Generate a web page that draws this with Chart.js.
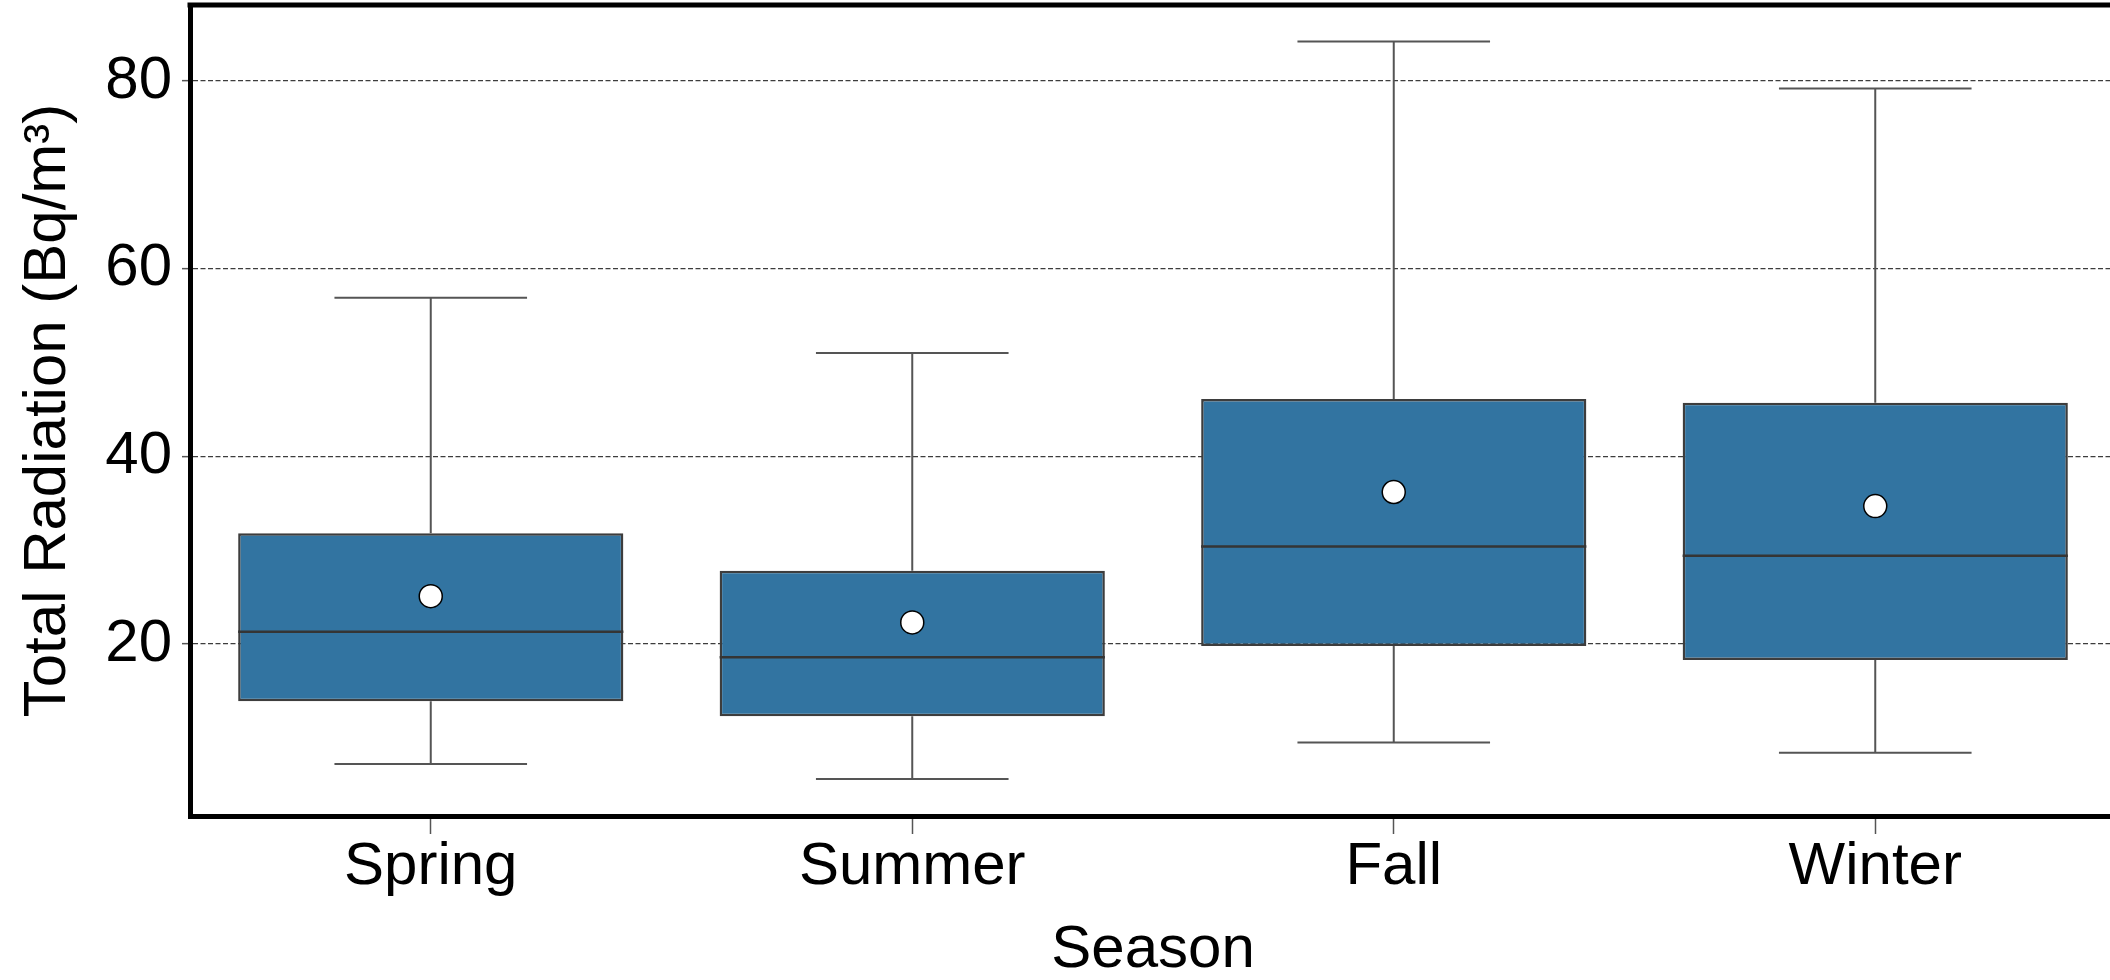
<!DOCTYPE html>
<html>
<head>
<meta charset="utf-8">
<title>Total Radiation by Season</title>
<script src="https://cdn.jsdelivr.net/npm/chart.js@4.4.1/dist/chart.umd.min.js"></script>
<style>
  html, body { margin: 0; padding: 0; background: #fff; overflow: hidden; }
  #chart { display: block; }
</style>
</head>
<body>
<canvas id="chart" width="2130" height="980"></canvas>
<script>
const seasons = ["Spring", "Summer", "Fall", "Winter"];
const whiskerLow = [7.2, 5.6, 9.5, 8.4];
const q1 = [13.9, 12.3, 19.8, 18.3];
const medians = [21.3, 18.6, 30.4, 29.4];
const q3 = [31.8, 27.8, 46.1, 45.7];
const whiskerHigh = [56.9, 51.0, 84.2, 79.2];
const means = [25.1, 22.3, 36.2, 34.7];
const yTicks = [20, 40, 60, 80];
const yMin = 1.67;
const yMax = 88.1;

const FONT = "'Liberation Sans', Arial, sans-serif";
const BOX_COLOR = "#3274a1";
const LINE_COLOR = "#3d3d3d";

// whiskers, caps and medians, drawn right after the boxes
const boxParts = {
  id: "boxParts",
  afterDatasetDraw(chart, args) {
    if (args.index !== 0) return;
    const ctx = chart.ctx;
    const x = chart.scales.x;
    const y = chart.scales.y;
    const bars = chart.getDatasetMeta(0).data;
    const catW = x.getPixelForValue(1) - x.getPixelForValue(0);
    const capHalf = catW * 0.2;

    ctx.save();
    seasons.forEach((s, i) => {
      const cx = x.getPixelForValue(i);
      const yLo = y.getPixelForValue(whiskerLow[i]);
      const yQ1 = y.getPixelForValue(q1[i]);
      const yQ3 = y.getPixelForValue(q3[i]);
      const yHi = y.getPixelForValue(whiskerHigh[i]);

      ctx.strokeStyle = "#555";
      ctx.lineWidth = 2;
      ctx.beginPath();
      ctx.moveTo(cx, yQ3);
      ctx.lineTo(cx, yHi);
      ctx.moveTo(cx - capHalf, yHi);
      ctx.lineTo(cx + capHalf, yHi);
      ctx.moveTo(cx, yQ1);
      ctx.lineTo(cx, yLo);
      ctx.moveTo(cx - capHalf, yLo);
      ctx.lineTo(cx + capHalf, yLo);
      ctx.stroke();

      const bar = bars[i];
      const ym = y.getPixelForValue(medians[i]);
      ctx.strokeStyle = "#353535";
      ctx.lineWidth = 2.5;
      ctx.beginPath();
      ctx.moveTo(bar.x - bar.width / 2, ym);
      ctx.lineTo(bar.x + bar.width / 2, ym);
      ctx.stroke();
    });
    ctx.restore();
  },
  afterDraw(chart) {
    // top spine, the right one falls outside the picture
    const ctx = chart.ctx;
    const area = chart.chartArea;
    ctx.save();
    ctx.strokeStyle = "#000";
    ctx.lineWidth = 5;
    ctx.beginPath();
    ctx.moveTo(area.left - 2.5, area.top);
    ctx.lineTo(chart.width, area.top);
    ctx.stroke();
    ctx.restore();
  }
};

const boxData = seasons.map((s, i) => [q1[i], q3[i]]);

new Chart(document.getElementById("chart"), {
  type: "bar",
  data: {
    labels: seasons,
    datasets: [
      {
        type: "bar",
        label: "IQR",
        data: boxData,
        backgroundColor: BOX_COLOR,
        borderColor: LINE_COLOR,
        borderWidth: 2.5,
        borderSkipped: false,
        barPercentage: 0.8,
        categoryPercentage: 1,
        order: 2
      },
      {
        type: "line",
        label: "Mean",
        data: means,
        showLine: false,
        pointRadius: 11.5,
        pointBackgroundColor: "#fff",
        pointBorderColor: "#000",
        pointBorderWidth: 1.5,
        order: 1
      }
    ]
  },
  options: {
    responsive: false,
    animation: false,
    layout: { autoPadding: false, padding: { top: 5, right: 14, left: 0, bottom: 0 } },
    plugins: {
      legend: { display: false },
      tooltip: { enabled: false }
    },
    scales: {
      x: {
        offset: true,
        grid: {
          display: true,
          offset: false,
          drawOnChartArea: false,
          drawTicks: true,
          tickLength: 18,
          tickColor: "#555",
          tickWidth: 1.5
        },
        border: { display: true, color: "#000", width: 5 },
        ticks: {
          color: "#000",
          padding: 3,
          font: { family: FONT, size: 60, lineHeight: 1 }
        },
        title: {
          display: true,
          text: "Season",
          color: "#000",
          padding: { top: 0, bottom: 0 },
          font: { family: FONT, size: 60, lineHeight: 1 }
        },
        afterFit(scale) {
          scale.height = 164;
          scale.paddingLeft = 0;
          scale.paddingRight = 0;
        }
      },
      y: {
        min: yMin,
        max: yMax,
        afterBuildTicks(scale) {
          scale.ticks = yTicks.map(v => ({ value: v }));
        },
        grid: {
          display: true,
          color: "rgba(40,40,40,0.9)",
          lineWidth: 1.3,
          drawTicks: true,
          tickLength: 8,
          tickColor: "#555",
          tickWidth: 1.5,
          tickBorderDash: []
        },
        border: { display: true, color: "#000", width: 5, dash: [5, 2.5] },
        ticks: {
          color: "#000",
          padding: 10,
          font: { family: FONT, size: 60 }
        },
        title: {
          display: true,
          text: "Total Radiation (Bq/m³)",
          color: "#000",
          padding: { top: 12, bottom: 0 },
          font: { family: FONT, size: 60, lineHeight: 1.2 }
        },
        afterFit(scale) {
          scale.width = 190;
          scale.paddingTop = 0;
          scale.paddingBottom = 0;
        }
      }
    }
  },
  plugins: [boxParts]
});
</script>
</body>
</html>
